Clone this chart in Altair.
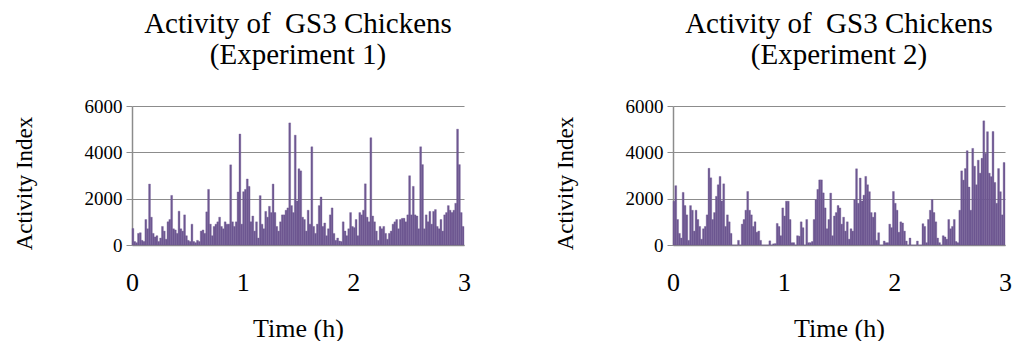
import altair as alt
import pandas as pd

# Activity index per minute (0..179 min)
exp1 = [714, 150, 100, 500, 530, 200, 150, 1100, 700, 2630,
        1200, 500, 350, 400, 150, 300, 800, 600, 250, 1000,
        1100, 2140, 700, 650, 500, 1460, 700, 600, 1300, 400,
        200, 150, 900, 150, 100, 200, 150, 600, 650, 500,
        1430, 2400, 900, 400, 800, 900, 1000, 1200, 800, 700,
        1000, 900, 900, 3460, 1000, 800, 1000, 2290, 4790, 900,
        2300, 2400, 2850, 2530, 1000, 1250, 600, 1000, 300, 2130,
        900, 700, 1450, 1200, 1670, 1400, 2630, 1400, 800, 600,
        1000, 1300, 1300, 1500, 1600, 5270, 1700, 1400, 4740, 1900,
        3290, 3200, 1200, 1100, 600, 1500, 900, 4240, 800, 500,
        900, 1700, 2070, 800, 950, 400, 700, 1300, 1600, 500,
        200, 300, 170, 150, 1000, 600, 400, 700, 1400, 800,
        750, 1100, 400, 1400, 1300, 1500, 2640, 1200, 1000, 4630,
        1250, 1000, 600, 200, 800, 700, 800, 500, 250, 500,
        600, 900, 1000, 1100, 700, 1100, 1150, 1150, 1000, 1300,
        2990, 1300, 2530, 1300, 1250, 700, 4240, 3470, 700, 1300,
        1000, 1450, 900, 1450, 1530, 800, 700, 1100, 600, 1300,
        1400, 1700, 1500, 1400, 1500, 1800, 5000, 3470, 1400, 800]

exp2 = [1890, 2560, 1100, 500, 300, 2270, 1700, 1300, 200, 1700,
        1500, 600, 1500, 1100, 800, 250, 700, 800, 1300, 3310,
        2900, 1100, 1400, 2100, 2600, 2960, 1900, 2640, 800, 1300,
        1000, 500, 0, 0, 0, 200, 0, 900, 1100, 1500,
        2310, 1500, 1300, 800, 1000, 550, 600, 200, 0, 0,
        0, 0, 180, 0, 50, 60, 930, 800, 400, 1600,
        1250, 1890, 1890, 1100, 100, 100, 0, 400, 380, 1000,
        750, 0, 1100, 100, 100, 150, 1100, 1950, 2400, 2810,
        2810, 2250, 1600, 700, 1100, 2240, 400, 1250, 1400, 1700,
        1600, 900, 1200, 600, 1000, 250, 700, 600, 1950, 3290,
        1800, 2890, 1900, 2150, 2960, 2600, 2300, 1400, 1200, 1400,
        200, 530, 0, 0, 170, 100, 100, 900, 750, 2310,
        1800, 1500, 550, 1000, 950, 600, 170, 0, 300, 0,
        0, 0, 170, 0, 0, 920, 800, 100, 1100, 1500,
        1960, 1400, 1000, 300, 100, 0, 400, 350, 250, 1100,
        700, 800, 1100, 150, 100, 1500, 3200, 2800, 3300, 4070,
        2500, 1500, 4170, 3400, 2600, 3660, 3100, 3740, 5360, 3960,
        4890, 3100, 2950, 4900, 2700, 1800, 3300, 2300, 1300, 3560]

x_ticks = [0, 1, 2, 3]
y_ticks = [0, 2000, 4000, 6000]
title_line1 = "Activity of\u00a0 GS3 Chickens"
subtitles = ["(Experiment 1)", "(Experiment 2)"]
x_title = "Time (h)"
y_title = "Activity Index"

FONT = "Liberation Serif, Times New Roman, serif"
BAR = "#6E5892"
GRID = "#8C8C8C"


def panel(values, sub):
    df = pd.DataFrame({"minute": list(range(len(values))), "activity": values})
    return (
        alt.Chart(df)
        .transform_calculate(t="datum.minute / 60", t2="(datum.minute + 1) / 60")
        .mark_bar(color=BAR, stroke=BAR, strokeWidth=0.35)
        .encode(
            x=alt.X(
                "t:Q",
                scale=alt.Scale(domain=[0, 3], nice=False, zero=False),
                axis=alt.Axis(
                    values=x_ticks, title=x_title, grid=False, ticks=False,
                    domainColor=GRID, domainWidth=1.5, labelFlush=False,
                    labelFont=FONT, labelFontSize=26, labelColor="black",
                    labelPadding=24, format="d",
                    titleFont=FONT, titleFontSize=26, titleFontWeight="normal",
                    titleColor="black", titlePadding=20,
                ),
            ),
            x2="t2:Q",
            y=alt.Y(
                "activity:Q",
                scale=alt.Scale(domain=[0, 6000], nice=False),
                axis=alt.Axis(
                    values=y_ticks, title=y_title, grid=True, gridColor=GRID,
                    gridWidth=1.2, domainColor=GRID, domainWidth=1.5,
                    ticks=True, tickSize=6, tickColor=GRID, labelFlush=False,
                    labelFont=FONT, labelFontSize=19, labelColor="black",
                    labelPadding=4, format="d",
                    titleFont=FONT, titleFontSize=23, titleFontWeight="normal",
                    titleColor="black", titlePadding=48, titleY=77,
                ),
            ),
            y2=alt.datum(0),
        )
        .properties(
            width=332, height=139,
            title=alt.TitleParams(
                [title_line1, sub], font=FONT, fontSize=29, fontWeight="normal",
                color="black", lineHeight=31, anchor="middle", frame="group",
                offset=27,
            ),
        )
    )


chart = (
    alt.hconcat(panel(exp1, subtitles[0]), panel(exp2, subtitles[1]), spacing=83)
    .properties(padding={"left": 5, "top": 2, "right": 0, "bottom": 0})
    .configure_view(stroke=None)
    .configure_axis(labelFont=FONT, titleFont=FONT)
    .configure_title(font=FONT)
)

chart.save("out.html", embed_options={"renderer": "svg", "actions": False})
